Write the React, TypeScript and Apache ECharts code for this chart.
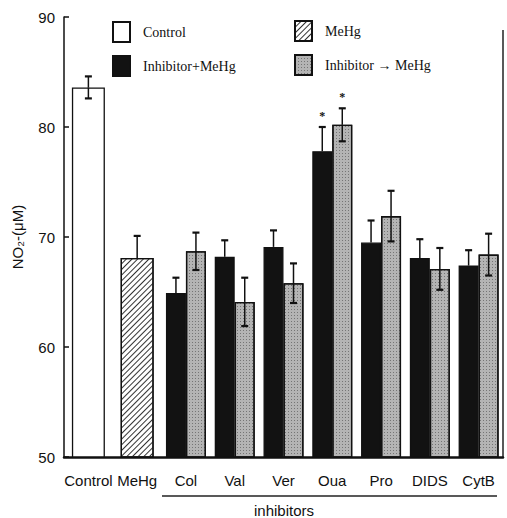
import React, { useEffect, useRef } from 'react';
import * as echarts from 'echarts';

const categories = ['Control', 'MeHg', 'Col', 'Val', 'Ver', 'Oua', 'Pro', 'DIDS', 'CytB'];
const controlValues = [83.6, null, null, null, null, null, null, null, null];
const controlErrors = [1.0, null, null, null, null, null, null, null, null];
const mehgValues = [null, 68.1, null, null, null, null, null, null, null];
const mehgErrors = [null, 2.0, null, null, null, null, null, null, null];
const inhibitorPlusMeHg = [null, null, 64.9, 68.2, 69.1, 77.8, 69.5, 68.1, 67.4];
const inhibitorPlusMeHgErrors = [null, null, 1.4, 1.5, 1.5, 2.2, 2.0, 1.7, 1.4];
const inhibitorThenMeHg = [null, null, 68.7, 64.1, 65.8, 80.2, 71.9, 67.1, 68.4];
const inhibitorThenMeHgErrors = [null, null, 1.7, 2.2, 1.8, 1.5, 2.3, 1.9, 1.9];
const significant = [false, false, false, false, false, true, false, false, false];
const yMin = 50;
const yMax = 90;
const yInterval = 10;

const SANS = 'Liberation Sans, Arial, sans-serif';
const SERIF = 'Liberation Serif, Times New Roman, serif';

function toBar(arr: (number | null)[]) {
  return arr.map((v) => (v == null ? '-' : v));
}

export default function App() {
  const ref = useRef<HTMLDivElement>(null);
  useEffect(() => {
    if (!ref.current) return;
    const chart = echarts.init(ref.current, undefined, { renderer: 'svg' });

    // error data: [catIndex, value, err, group, significant, showLower]
    const errData: any[] = [];
    categories.forEach((_, i) => {
      if (controlValues[i] != null) errData.push([i, controlValues[i], controlErrors[i], 0, 0, 1]);
      if (mehgValues[i] != null) errData.push([i, mehgValues[i], mehgErrors[i], 0, 0, 0]);
      if (inhibitorPlusMeHg[i] != null)
        errData.push([i, inhibitorPlusMeHg[i], inhibitorPlusMeHgErrors[i], 1, significant[i] ? 1 : 0, 0]);
      if (inhibitorThenMeHg[i] != null)
        errData.push([i, inhibitorThenMeHg[i], inhibitorThenMeHgErrors[i], 2, significant[i] ? 1 : 0, 1]);
    });

    const border = { borderColor: '#111', borderWidth: 1.3 };
    const legendText = { fontFamily: SERIF, fontSize: 14, color: '#111', padding: [0, 0, 0, 8] };

    const option: any = {
      animation: false,
      backgroundColor: '#fff',
      textStyle: { fontFamily: SANS },
      grid: { left: 64, right: 4, top: 17, bottom: 61 },
      legend: [
        {
          left: 107,
          top: 16,
          orient: 'vertical',
          icon: 'rect',
          data: ['Control', 'Inhibitor+MeHg'],
          itemWidth: 17,
          itemHeight: 20,
          itemGap: 12,
          textStyle: legendText,
        },
        {
          left: 289,
          top: 15,
          orient: 'vertical',
          icon: 'rect',
          data: ['MeHg', 'Inhibitor → MeHg'],
          itemWidth: 17,
          itemHeight: 20,
          itemGap: 12,
          textStyle: legendText,
        },
      ],
      xAxis: [
        {
          type: 'category',
          data: categories,
          axisLine: { lineStyle: { color: '#111', width: 2.5 } },
          axisTick: { show: false },
          axisLabel: { interval: 0, fontSize: 15, color: '#111', margin: 16, fontFamily: SANS },
        },
        { type: 'category', data: categories, show: false },
      ],
      yAxis: {
        type: 'value',
        min: yMin,
        max: yMax,
        interval: yInterval,
        name: 'NO₂-(μM)',
        nameLocation: 'middle',
        nameGap: 39,
        nameTextStyle: { fontSize: 15, color: '#111', fontFamily: SANS },
        axisLine: { show: true, lineStyle: { color: '#111', width: 1.5 } },
        axisTick: { show: true, inside: true, length: 5, lineStyle: { color: '#111', width: 1.5 } },
        splitLine: { show: false },
        axisLabel: { fontSize: 15, color: '#111', margin: 9, fontFamily: SANS },
      },
      series: [
        {
          name: 'Control',
          type: 'bar',
          xAxisIndex: 0,
          stack: 'single',
          barWidth: 33,
          data: toBar(controlValues),
          itemStyle: { color: '#fff', ...border },
        },
        {
          name: 'MeHg',
          type: 'bar',
          xAxisIndex: 0,
          stack: 'single',
          barWidth: 33,
          data: toBar(mehgValues),
          itemStyle: {
            color: '#fff',
            ...border,
            decal: {
              symbol: 'rect',
              color: '#333',
              backgroundColor: '#fff',
              dashArrayX: [1, 0],
              dashArrayY: [1, 2.5],
              rotation: -Math.PI / 4,
              symbolSize: 1,
            },
          },
        },
        {
          name: 'Inhibitor+MeHg',
          type: 'bar',
          xAxisIndex: 1,
          barWidth: 20,
          barGap: '0%',
          data: toBar(inhibitorPlusMeHg),
          itemStyle: { color: '#121212', ...border },
        },
        {
          name: 'Inhibitor → MeHg',
          type: 'bar',
          xAxisIndex: 1,
          barWidth: 20,
          barGap: '0%',
          data: toBar(inhibitorThenMeHg),
          itemStyle: {
            color: '#b4b4b4',
            ...border,
            decal: {
              symbol: 'rect',
              color: 'rgba(40,40,40,0.45)',
              backgroundColor: '#c4c4c4',
              dashArrayX: [1, 2],
              dashArrayY: [1, 2],
              symbolSize: 1,
            },
          },
        },
        {
          name: 'errors',
          type: 'custom',
          xAxisIndex: 0,
          data: errData,
          z: 10,
          silent: true,
          renderItem: (params: any, api: any) => {
            const i = api.value(0);
            const v = api.value(1);
            const e = api.value(2);
            const g = api.value(3);
            const sig = api.value(4);
            const lower = api.value(5);
            const bw = api.size([1, 0])[0];
            const off = g === 1 ? -bw * 0.205 : g === 2 ? bw * 0.205 : 0;
            const top = api.coord([i, v + e]);
            const mid = api.coord([i, v]);
            const bot = api.coord([i, v - e]);
            const x = top[0] + off;
            const cap = 3.5;
            const st = { stroke: '#111', lineWidth: 1.5 };
            const children: any[] = [
              { type: 'line', shape: { x1: x, y1: mid[1], x2: x, y2: top[1] }, style: st },
              { type: 'line', shape: { x1: x - cap, y1: top[1], x2: x + cap, y2: top[1] }, style: { stroke: '#111', lineWidth: 2.2 } },
            ];
            if (lower) {
              children.push({ type: 'line', shape: { x1: x, y1: mid[1], x2: x, y2: bot[1] }, style: st });
              children.push({ type: 'line', shape: { x1: x - cap, y1: bot[1], x2: x + cap, y2: bot[1] }, style: { stroke: '#111', lineWidth: 2.2 } });
            }
            if (sig) {
              children.push({
                type: 'text',
                x,
                y: top[1] - 11,
                style: { text: '*', fill: '#111', font: `bold 12px ${SERIF}`, align: 'center', verticalAlign: 'middle' },
              });
            }
            return { type: 'group', children };
          },
        },
      ],
      graphic: [
        { type: 'line', shape: { x1: 503, y1: 30, x2: 503, y2: 457 }, style: { stroke: '#222', lineWidth: 1.5 } },
        { type: 'line', shape: { x1: 162, y1: 496, x2: 497, y2: 496 }, style: { stroke: '#222', lineWidth: 1.5 } },
        {
          type: 'text',
          x: 284,
          y: 510,
          style: { text: 'inhibitors', fill: '#111', font: `15px ${SANS}`, align: 'center', verticalAlign: 'middle' },
        },
      ],
    };
    chart.setOption(option);
    return () => chart.dispose();
  }, []);
  return <div ref={ref} style={{ position: 'fixed', left: 0, top: 0, width: 507, height: 518 }} />;
}
